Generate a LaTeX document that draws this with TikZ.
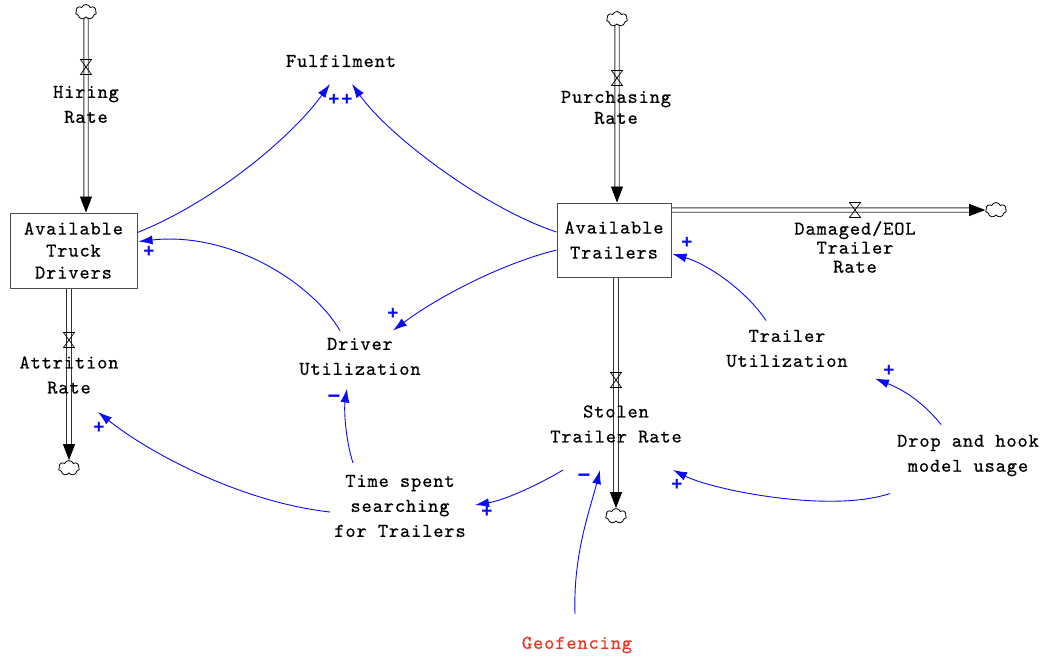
\documentclass[tikz,border=0pt]{standalone}
\usepackage{fontspec}
\newfontfamily\courfont[LetterSpace=4.4,FakeBold=0.5]{lmmono10-regular.otf}
\newfontfamily\polfont{Liberation Sans}
\usetikzlibrary{shapes.symbols,arrows.meta,calc}
\definecolor{linkblue}{RGB}{10,10,245}
\definecolor{geored}{RGB}{230,55,35}
\begin{document}
\begin{tikzpicture}[x=1pt,y=-1pt,
  lbl/.style={font=\courfont\fontsize{19.5}{25}\selectfont, align=center, inner sep=0pt},
  stock/.style={lbl, draw=black!70, line width=1pt},
  rail/.style={draw=black!80, line width=0.9pt},
  flowtip/.style={line width=0.7pt, -{Triangle[length=16pt,width=12pt]}},
  sky/.style={cloud, cloud puffs=7, cloud puff arc=140, aspect=1.3, draw, line width=0.8pt,
              minimum width=21pt, minimum height=15pt, inner sep=0pt},
  link/.style={draw=linkblue, line width=0.9pt, -{Latex[length=14pt,width=9pt]}},
  pol/.style={text=linkblue, font=\polfont\bfseries\fontsize{19}{19}\selectfont, inner sep=0pt},
  valve/.pic={\draw[line width=0.7pt] (-5.5,-7.5) -- (5.5,-7.5) -- (-5.5,7.5) -- (5.5,7.5) -- cycle;}
]
\useasboundingbox (0,0) rectangle (1044,657);

% stocks
\node[stock, minimum width=127pt, minimum height=75pt, font=\courfont\fontsize{19.5}{22}\selectfont]
  (tdu) at (73.5,250.5) {Available\\Truck\\Drivers};
\node[stock, minimum width=114pt, minimum height=74pt] (tr) at (614,240) {Available\\Trailers};

% sources and sinks
\node[sky] (c1) at (86,12) {};
\node[sky] (c2) at (69,468) {};
\node[sky] (c3) at (617,19) {};
\node[sky] (c4) at (996,210) {};
\node[sky] (c5) at (616,516) {};

% flow pipes: two parallel rails and a filled head
\foreach \s in {-2.2,2.2}{
  \draw[rail] ([xshift=\s pt]c1.south) -- ($(tdu.north -| c1)+(\s,-15)$);
  \draw[rail] ($(tdu.south -| c2)+(\s,0)$) -- ($(c2.north)+(\s,-15)$);
  \draw[rail] ([xshift=\s pt]c3.south) -- ($(tr.north -| c3)+(\s,-15)$);
  \draw[rail] ($(tr.east |- c4)+(0,\s)$) -- ($(c4.west)+(-15,\s)$);
  \draw[rail] ($(tr.south -| c5)+(\s,0)$) -- ($(c5.north)+(\s,-15)$);
}
\draw[flowtip] ($(tdu.north -| c1)+(0,-16)$) -- (tdu.north -| c1);
\draw[flowtip] ($(c2.north)+(0,-16)$) -- (c2.north);
\draw[flowtip] ($(tr.north -| c3)+(0,-16)$) -- (tr.north -| c3);
\draw[flowtip] ($(c4.west)+(-16,0)$) -- (c4.west);
\draw[flowtip] ($(c5.north)+(0,-16)$) -- (c5.north);

% valves
\pic at (86,67) {valve};
\pic at (69,340) {valve};
\pic at (617,78) {valve};
\pic at (855,210) {valve};
\pic at (616,380) {valve};

% flow and auxiliary labels
\node[lbl] (hr) at (86,104.5) {Hiring\\Rate};
\node[lbl] (ar) at (69,375) {Attrition\\Rate};
\node[lbl, font=\courfont\fontsize{19.5}{21}\selectfont] (pr) at (616,107.5) {Purchasing\\Rate};
\node[lbl, font=\courfont\fontsize{19.5}{19}\selectfont] (dr) at (855,247) {Damaged/EOL\\Trailer\\Rate};
\node[lbl] (sr) at (616,424) {Stolen\\Trailer Rate};
\node[lbl] (fulf) at (341,61) {Fulfilment};
\node[lbl] (du) at (360,356.5) {Driver\\Utilization};
\node[lbl] (tu) at (787,348.5) {Trailer\\Utilization};
\node[lbl] (ts) at (400,506) {Time spent\\searching\\for Trailers};
\node[lbl] (dh) at (968,455.5) {Drop and hook\\model usage};
\node[lbl, text=geored] (geo) at (577,645) {Geofencing};

% causal links
\draw[link] ([shift={(0,-18)}]tdu.east) .. controls +(75,-30) and +(-40,55) .. ([shift={(-11,23)}]fulf.center);
\draw[link] ([shift={(0,-8)}]tr.west) .. controls +(-75,-25) and +(35,50) .. ([shift={(11,23)}]fulf.center);
\draw[link] ([shift={(0,10)}]tr.west) .. controls +(-60,15) and +(40,-30) .. ([shift={(33,-26)}]du.center);
\draw[link] ([shift={(-20,-26)}]du.center) .. controls +(-30,-50) and +(90,-10) .. ([shift={(1,-9)}]tdu.east);
\draw[link] ([shift={(-21,-28)}]tu.center) .. controls +(-20,-30) and +(35,10) .. ([shift={(1,14)}]tr.east);
\draw[link] ([shift={(-47,-43)}]ts.center) .. controls +(-8,-25) and +(-3,20) .. ([shift={(-13,32)}]du.center);
\draw[link] ([shift={(-70,6)}]ts.center) .. controls +(-90,-10) and +(50,40) .. ([shift={(29,37)}]ar.center);
\draw[link] ([shift={(-53,46)}]sr.center) .. controls +(-25,15) and +(30,-5) .. ([shift={(75,-1)}]ts.center);
\draw[link] ([shift={(-2,-31)}]geo.center) .. controls +(-2,-60) and +(-10,40) .. ([shift={(-16,46)}]sr.center);
\draw[link] ([shift={(-78,38)}]dh.center) .. controls +(-60,20) and +(40,20) .. ([shift={(57,46)}]sr.center);
\draw[link] ([shift={(-27,-31)}]dh.center) .. controls +(-20,-25) and +(25,10) .. ([shift={(88,30)}]tu.center);

% polarities
\node[pol] (p1) at (334,100) {+};
\node[pol] (p2) at (347,100) {+};
\node[pol] (p3) at (393,314) {+};
\node[pol] (p4) at (149,252) {+};
\node[pol] (p5) at (687,243) {+};
\node[pol, font=\polfont\bfseries\fontsize{22}{22}\selectfont] (p6) at (334,399) {−};
\node[pol] (p7) at (99,428) {+};
\node[pol] (p8) at (487,512) {+};
\node[pol, font=\polfont\bfseries\fontsize{22}{22}\selectfont] (p9) at (584,478) {−};
\node[pol] (p10) at (677,485) {+};
\node[pol] (p11) at (889,371) {+};
\end{tikzpicture}
\end{document}
